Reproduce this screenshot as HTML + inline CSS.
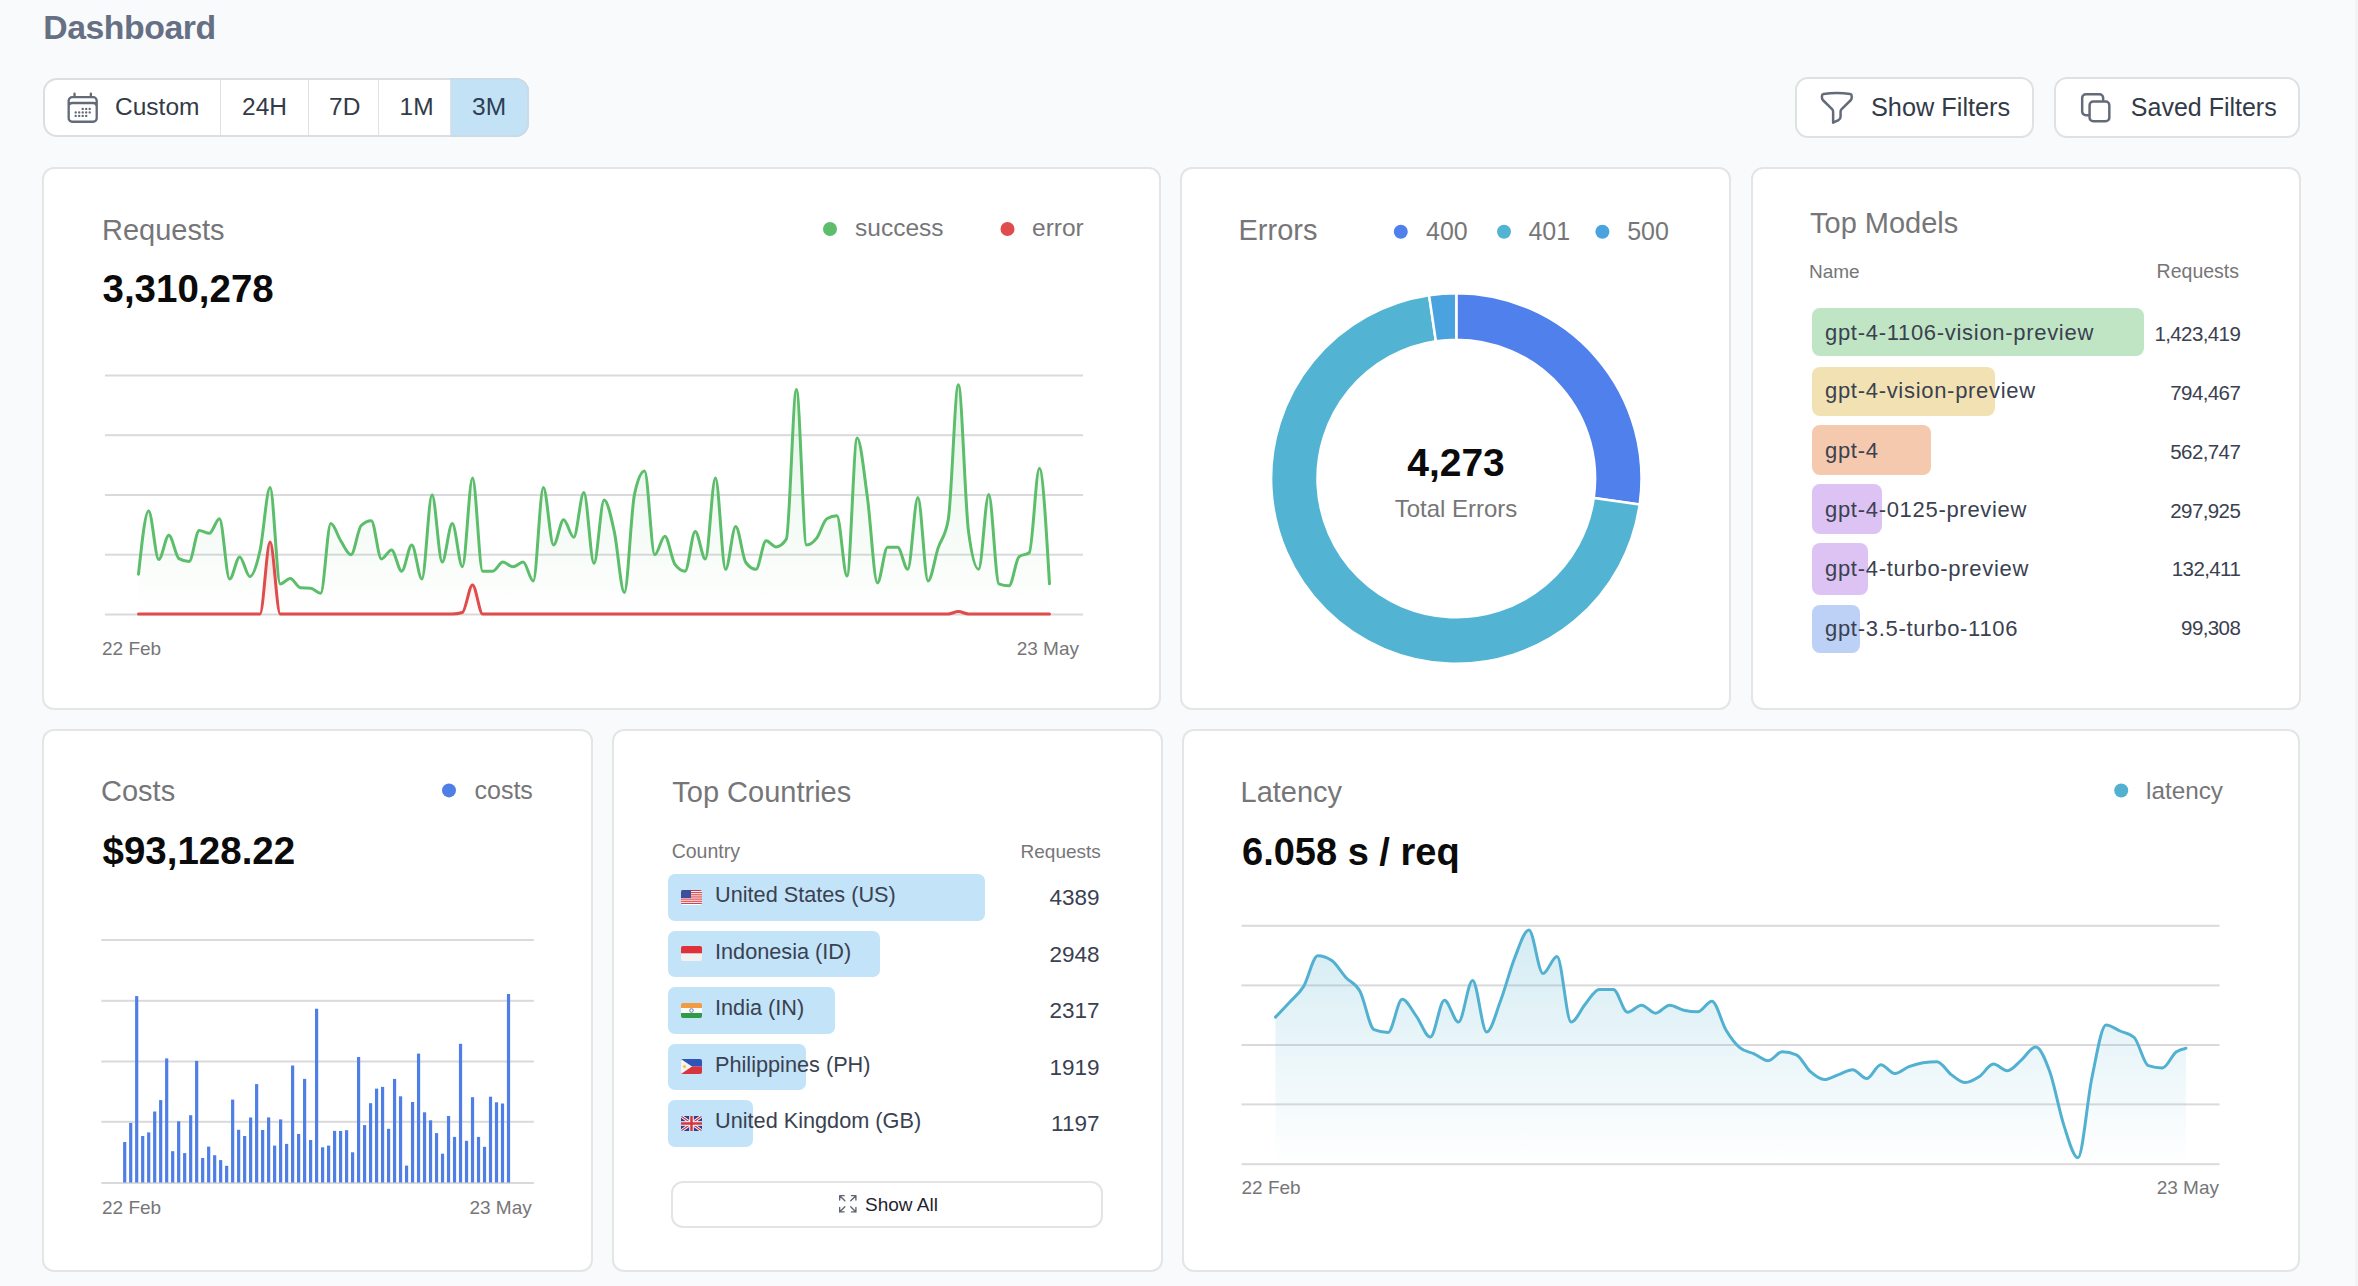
<!DOCTYPE html><html><head><meta charset="utf-8"><style>
html,body{margin:0;padding:0;}
body{width:2358px;height:1286px;background:#f9fafb;position:relative;overflow:hidden;font-family:"Liberation Sans", sans-serif;}
.t{position:absolute;white-space:nowrap;line-height:normal;}
.card{position:absolute;box-sizing:border-box;background:#fff;border:2px solid #e4e5e5;border-radius:12px;}
.btn{position:absolute;box-sizing:border-box;background:#fff;border:2px solid #e0e1e3;border-radius:13px;}
svg{position:absolute;left:0;top:0;}
</style></head><body>
<div class="t" style="top:8.0px;font-size:33.8px;font-weight:700;color:#667085;letter-spacing:-0.45px;left:43.2px;">Dashboard</div>
<div class="btn" style="left:42.5px;top:78px;width:486.5px;height:59px;border-radius:14px;border-color:#dddee0"></div>
<div style="position:absolute;left:450px;top:78px;width:79px;height:59px;background:#c4e2f6;border-radius:0 14px 14px 0;box-shadow:inset -2px 0 0 #c9dbe6, inset 0 2px 0 #c9dbe6, inset 0 -2px 0 #c9dbe6"></div>
<div style="position:absolute;left:219.5px;top:80px;width:1.6px;height:55px;background:#e0e1e3"></div>
<div style="position:absolute;left:307.5px;top:80px;width:1.6px;height:55px;background:#e0e1e3"></div>
<div style="position:absolute;left:377.5px;top:80px;width:1.6px;height:55px;background:#e0e1e3"></div>
<div style="position:absolute;left:449.5px;top:80px;width:1.6px;height:55px;background:#e0e1e3"></div>
<svg style="left:63.9px;top:88.8px" width="37.4" height="37.4" viewBox="0 0 24 24" fill="none" stroke="#636b78" stroke-width="1.5" stroke-linecap="round" stroke-linejoin="round"><path d="M6.75 3v2.25M17.25 3v2.25M3 18.75V7.5a2.25 2.25 0 012.25-2.25h13.5A2.25 2.25 0 0121 7.5v11.25m-18 0A2.25 2.25 0 005.25 21h13.5A2.25 2.25 0 0021 18.75m-18 0v-7.5A2.25 2.25 0 015.25 9h13.5A2.25 2.25 0 0121 11.25v7.5m-9-6h.008v.008H12v-.008zM12 15h.008v.008H12V15zm0 2.25h.008v.008H12v-.008zM9.75 15h.008v.008H9.75V15zm0 2.25h.008v.008H9.75v-.008zM7.5 15h.008v.008H7.5V15zm0 2.25h.008v.008H7.5v-.008zm6.75-4.5h.008v.008h-.008v-.008zm0 2.25h.008v.008h-.008V15zm0 2.25h.008v.008h-.008v-.008zm2.25-4.5h.008v.008H16.5v-.008zm0 2.25h.008v.008H16.5V15z"/></svg>
<div class="t" style="top:93.0px;font-size:24.5px;font-weight:400;color:#333a48;left:115.0px;">Custom</div>
<div class="t" style="top:93.0px;font-size:24.5px;font-weight:400;color:#333a48;left:242.0px;">24H</div>
<div class="t" style="top:93.0px;font-size:24.5px;font-weight:400;color:#333a48;left:329.0px;">7D</div>
<div class="t" style="top:93.0px;font-size:24.5px;font-weight:400;color:#333a48;left:399.5px;">1M</div>
<div class="t" style="top:93.0px;font-size:24.5px;font-weight:400;color:#2c3e55;left:472.0px;">3M</div>
<div class="btn" style="left:1795px;top:77px;width:239px;height:61px;"></div>
<svg style="left:1816.7px;top:87.7px" width="39.7" height="39.7" viewBox="0 0 24 24" fill="none" stroke="#636b78" stroke-width="1.5" stroke-linecap="round" stroke-linejoin="round"><path d="M12 3c2.755 0 5.455.232 8.083.678.533.09.917.556.917 1.096v1.044a2.25 2.25 0 01-.659 1.591l-5.432 5.432a2.25 2.25 0 00-.659 1.591v2.927a2.25 2.25 0 01-1.244 2.013L9.75 21v-6.568a2.25 2.25 0 00-.659-1.591L3.659 7.409A2.25 2.25 0 013 5.818V4.774c0-.54.384-1.006.917-1.096A48.32 48.32 0 0112 3z"/></svg>
<div class="t" style="top:93.0px;font-size:25.3px;font-weight:400;color:#333a48;left:1871.0px;">Show Filters</div>
<div class="btn" style="left:2054px;top:77px;width:246px;height:61px;"></div>
<svg style="left:2076.4px;top:87.9px" width="39.5" height="39.5" viewBox="0 0 24 24" fill="none" stroke="#636b78" stroke-width="1.5" stroke-linecap="round" stroke-linejoin="round"><path d="M16.5 8.25V6a2.25 2.25 0 00-2.25-2.25H6A2.25 2.25 0 003.75 6v8.25A2.25 2.25 0 006 16.5h2.25m8.25-8.25H18a2.25 2.25 0 012.25 2.25V18A2.25 2.25 0 0118 20.25h-7.5A2.25 2.25 0 018.25 18v-1.5m8.25-8.25h-6a2.25 2.25 0 00-2.25 2.25v6"/></svg>
<div class="t" style="top:93.0px;font-size:25px;font-weight:400;color:#333a48;left:2130.8px;">Saved Filters</div>
<div class="card" style="left:42px;top:167px;width:1119px;height:543px;"></div>
<div class="card" style="left:1180px;top:167px;width:550.5px;height:543px;"></div>
<div class="card" style="left:1750.5px;top:167px;width:550.0px;height:543px;"></div>
<div class="card" style="left:42px;top:729px;width:551px;height:542.5px;"></div>
<div class="card" style="left:612px;top:729px;width:550.5px;height:542.5px;"></div>
<div class="card" style="left:1181.5px;top:729px;width:1118.5px;height:542.5px;"></div>
<div class="t" style="top:214.0px;font-size:29px;font-weight:400;color:#767678;left:102.0px;">Requests</div>
<div class="t" style="top:267.0px;font-size:38.5px;font-weight:700;color:#0b0b0c;left:102.5px;">3,310,278</div>
<svg style="left:0;top:0" width="2358" height="1286"><circle cx="830" cy="229" r="7" fill="#5cbd6b"/><circle cx="1007.5" cy="229" r="7" fill="#e04b4b"/></svg>
<div class="t" style="top:214.0px;font-size:24.5px;font-weight:400;color:#767678;left:855.0px;">success</div>
<div class="t" style="top:214.0px;font-size:24.5px;font-weight:400;color:#767678;left:1032.0px;">error</div>
<svg style="left:0;top:0" width="2358" height="1286"><defs><linearGradient id="gg" x1="0" y1="0" x2="0" y2="1"><stop offset="0" stop-color="#5cbd6b" stop-opacity="0.16"/><stop offset="1" stop-color="#5cbd6b" stop-opacity="0"/></linearGradient><linearGradient id="rg" x1="0" y1="0" x2="0" y2="1"><stop offset="0" stop-color="#e04b4b" stop-opacity="0.16"/><stop offset="1" stop-color="#e04b4b" stop-opacity="0"/></linearGradient><linearGradient id="lg" x1="0" y1="0" x2="0" y2="1"><stop offset="0" stop-color="#52b1d0" stop-opacity="0.25"/><stop offset="1" stop-color="#52b1d0" stop-opacity="0"/></linearGradient></defs><rect x="105" y="374.5" width="978" height="2" fill="#dadadc"/><rect x="105" y="434.2" width="978" height="2" fill="#dadadc"/><rect x="105" y="494.0" width="978" height="2" fill="#dadadc"/><rect x="105" y="553.7" width="978" height="2" fill="#dadadc"/><rect x="105" y="613.5" width="978" height="2" fill="#dadadc"/><path d="M138.50,574.20C141.87,542.60,145.25,511.00,148.62,511.00C152.00,511.00,155.37,559.60,158.74,559.60C162.12,559.60,165.49,535.30,168.87,535.30C172.24,535.30,175.61,556.67,178.99,558.60C182.36,560.53,185.74,561.50,189.11,561.50C192.48,561.50,195.86,530.40,199.23,530.40C202.61,530.40,205.98,533.30,209.35,533.30C212.73,533.30,216.10,518.70,219.48,518.70C222.85,518.70,226.22,579.00,229.60,579.00C232.97,579.00,236.35,557.00,239.72,557.00C243.09,557.00,246.47,576.70,249.84,576.70C253.22,576.70,256.59,565.65,259.96,550.80C263.34,535.95,266.71,487.60,270.09,487.60C273.46,487.60,276.83,583.90,280.21,583.90C283.58,583.90,286.96,578.60,290.33,578.60C293.70,578.60,297.08,587.53,300.45,587.80C303.83,588.07,307.20,587.93,310.57,588.20C313.95,588.47,317.32,593.20,320.70,593.20C324.07,593.20,327.44,523.60,330.82,523.60C334.19,523.60,337.57,535.92,340.94,541.10C344.31,546.28,347.69,554.70,351.06,554.70C354.44,554.70,357.81,528.70,361.18,525.50C364.56,522.30,367.93,520.70,371.31,520.70C374.68,520.70,378.05,559.00,381.43,559.00C384.80,559.00,388.18,549.90,391.55,549.90C394.92,549.90,398.30,571.20,401.67,571.20C405.05,571.20,408.42,545.00,411.79,545.00C415.17,545.00,418.54,579.00,421.92,579.00C425.29,579.00,428.66,494.80,432.04,494.80C435.41,494.80,438.79,562.10,442.16,562.10C445.53,562.10,448.91,523.60,452.28,523.60C455.66,523.60,459.03,566.80,462.40,566.80C465.78,566.80,469.15,477.90,472.53,477.90C475.90,477.90,479.27,571.20,482.65,571.20C486.02,571.20,489.40,571.20,492.77,571.20C496.14,571.20,499.52,562.10,502.89,562.10C506.27,562.10,509.64,566.80,513.01,566.80C516.39,566.80,519.76,562.10,523.14,562.10C526.51,562.10,529.88,581.00,533.26,581.00C536.63,581.00,540.01,487.60,543.38,487.60C546.75,487.60,550.13,545.00,553.50,545.00C556.88,545.00,560.25,519.70,563.62,519.70C567.00,519.70,570.37,537.20,573.75,537.20C577.12,537.20,580.49,492.50,583.87,492.50C587.24,492.50,590.62,563.50,593.99,563.50C597.36,563.50,600.74,499.90,604.11,499.90C607.49,499.90,610.86,515.95,614.23,531.40C617.61,546.85,620.98,592.60,624.36,592.60C627.73,592.60,631.10,509.93,634.48,494.40C637.85,478.87,641.23,471.10,644.60,471.10C647.97,471.10,651.35,554.70,654.72,554.70C658.10,554.70,661.47,536.20,664.84,536.20C668.22,536.20,671.59,559.87,674.97,564.40C678.34,568.93,681.71,571.20,685.09,571.20C688.46,571.20,691.84,531.40,695.21,531.40C698.58,531.40,701.96,559.00,705.33,559.00C708.71,559.00,712.08,477.90,715.45,477.90C718.83,477.90,722.20,569.30,725.58,569.30C728.95,569.30,732.32,526.50,735.70,526.50C739.07,526.50,742.45,557.97,745.82,562.50C749.19,567.03,752.57,569.30,755.94,569.30C759.32,569.30,762.69,540.70,766.06,540.70C769.44,540.70,772.81,546.90,776.19,546.90C779.56,546.90,782.93,544.33,786.31,539.20C789.68,534.07,793.06,389.40,796.43,389.40C799.80,389.40,803.18,545.00,806.55,545.00C809.93,545.00,813.30,542.58,816.67,538.20C820.05,533.82,823.42,520.63,826.80,518.70C830.17,516.77,833.54,515.80,836.92,515.80C840.29,515.80,843.67,576.10,847.04,576.10C850.41,576.10,853.79,438.10,857.16,438.10C860.54,438.10,863.91,472.27,867.28,496.40C870.66,520.53,874.03,582.90,877.41,582.90C880.78,582.90,884.15,547.30,887.53,547.30C890.90,547.30,894.28,547.30,897.65,547.30C901.02,547.30,904.40,569.30,907.77,569.30C911.15,569.30,914.52,497.40,917.89,497.40C921.27,497.40,924.64,581.00,928.02,581.00C931.39,581.00,934.76,558.12,938.14,547.90C941.51,537.68,944.89,538.50,948.26,519.70C951.63,500.90,955.01,384.80,958.38,384.80C961.76,384.80,965.13,506.13,968.50,531.40C971.88,556.67,975.25,569.30,978.63,569.30C982.00,569.30,985.37,494.40,988.75,494.40C992.12,494.40,995.50,582.47,998.87,583.80C1002.24,585.13,1005.62,585.80,1008.99,585.80C1012.37,585.80,1015.74,559.20,1019.11,556.60C1022.49,554.00,1025.86,555.30,1029.24,552.70C1032.61,550.10,1035.98,468.20,1039.36,468.20C1042.73,468.20,1046.11,526.00,1049.48,583.80L1049.48,614.5L138.50,614.5Z" fill="url(#gg)"/><path d="M138.50,614.00C141.87,614.00,145.25,614.00,148.62,614.00C152.00,614.00,155.37,614.00,158.74,614.00C162.12,614.00,165.49,614.00,168.87,614.00C172.24,614.00,175.61,614.00,178.99,614.00C182.36,614.00,185.74,614.00,189.11,614.00C192.48,614.00,195.86,614.00,199.23,614.00C202.61,614.00,205.98,614.00,209.35,614.00C212.73,614.00,216.10,614.00,219.48,614.00C222.85,614.00,226.22,614.00,229.60,614.00C232.97,614.00,236.35,614.00,239.72,614.00C243.09,614.00,246.47,614.00,249.84,614.00C253.22,614.00,256.59,614.00,259.96,614.00C263.34,614.00,266.71,542.10,270.09,542.10C273.46,542.10,276.83,614.00,280.21,614.00C283.58,614.00,286.96,614.00,290.33,614.00C293.70,614.00,297.08,614.00,300.45,614.00C303.83,614.00,307.20,614.00,310.57,614.00C313.95,614.00,317.32,614.00,320.70,614.00C324.07,614.00,327.44,614.00,330.82,614.00C334.19,614.00,337.57,614.00,340.94,614.00C344.31,614.00,347.69,614.00,351.06,614.00C354.44,614.00,357.81,614.00,361.18,614.00C364.56,614.00,367.93,614.00,371.31,614.00C374.68,614.00,378.05,614.00,381.43,614.00C384.80,614.00,388.18,614.00,391.55,614.00C394.92,614.00,398.30,614.00,401.67,614.00C405.05,614.00,408.42,614.00,411.79,614.00C415.17,614.00,418.54,614.00,421.92,614.00C425.29,614.00,428.66,614.00,432.04,614.00C435.41,614.00,438.79,614.00,442.16,614.00C445.53,614.00,448.91,614.00,452.28,614.00C455.66,614.00,459.03,613.50,462.40,612.50C465.78,611.50,469.15,584.90,472.53,584.90C475.90,584.90,479.27,614.00,482.65,614.00C486.02,614.00,489.40,614.00,492.77,614.00C496.14,614.00,499.52,614.00,502.89,614.00C506.27,614.00,509.64,614.00,513.01,614.00C516.39,614.00,519.76,614.00,523.14,614.00C526.51,614.00,529.88,614.00,533.26,614.00C536.63,614.00,540.01,614.00,543.38,614.00C546.75,614.00,550.13,614.00,553.50,614.00C556.88,614.00,560.25,614.00,563.62,614.00C567.00,614.00,570.37,614.00,573.75,614.00C577.12,614.00,580.49,614.00,583.87,614.00C587.24,614.00,590.62,614.00,593.99,614.00C597.36,614.00,600.74,614.00,604.11,614.00C607.49,614.00,610.86,614.00,614.23,614.00C617.61,614.00,620.98,614.00,624.36,614.00C627.73,614.00,631.10,614.00,634.48,614.00C637.85,614.00,641.23,614.00,644.60,614.00C647.97,614.00,651.35,614.00,654.72,614.00C658.10,614.00,661.47,614.00,664.84,614.00C668.22,614.00,671.59,614.00,674.97,614.00C678.34,614.00,681.71,614.00,685.09,614.00C688.46,614.00,691.84,614.00,695.21,614.00C698.58,614.00,701.96,614.00,705.33,614.00C708.71,614.00,712.08,614.00,715.45,614.00C718.83,614.00,722.20,614.00,725.58,614.00C728.95,614.00,732.32,614.00,735.70,614.00C739.07,614.00,742.45,614.00,745.82,614.00C749.19,614.00,752.57,614.00,755.94,614.00C759.32,614.00,762.69,614.00,766.06,614.00C769.44,614.00,772.81,614.00,776.19,614.00C779.56,614.00,782.93,614.00,786.31,614.00C789.68,614.00,793.06,614.00,796.43,614.00C799.80,614.00,803.18,614.00,806.55,614.00C809.93,614.00,813.30,614.00,816.67,614.00C820.05,614.00,823.42,614.00,826.80,614.00C830.17,614.00,833.54,614.00,836.92,614.00C840.29,614.00,843.67,614.00,847.04,614.00C850.41,614.00,853.79,614.00,857.16,614.00C860.54,614.00,863.91,614.00,867.28,614.00C870.66,614.00,874.03,614.00,877.41,614.00C880.78,614.00,884.15,614.00,887.53,614.00C890.90,614.00,894.28,614.00,897.65,614.00C901.02,614.00,904.40,614.00,907.77,614.00C911.15,614.00,914.52,614.00,917.89,614.00C921.27,614.00,924.64,614.00,928.02,614.00C931.39,614.00,934.76,614.00,938.14,614.00C941.51,614.00,944.89,614.00,948.26,614.00C951.63,614.00,955.01,611.50,958.38,611.50C961.76,611.50,965.13,614.00,968.50,614.00C971.88,614.00,975.25,614.00,978.63,614.00C982.00,614.00,985.37,614.00,988.75,614.00C992.12,614.00,995.50,614.00,998.87,614.00C1002.24,614.00,1005.62,614.00,1008.99,614.00C1012.37,614.00,1015.74,614.00,1019.11,614.00C1022.49,614.00,1025.86,614.00,1029.24,614.00C1032.61,614.00,1035.98,614.00,1039.36,614.00C1042.73,614.00,1046.11,614.00,1049.48,614.00L1049.48,614.5L138.50,614.5Z" fill="url(#rg)"/><path d="M138.50,574.20C141.87,542.60,145.25,511.00,148.62,511.00C152.00,511.00,155.37,559.60,158.74,559.60C162.12,559.60,165.49,535.30,168.87,535.30C172.24,535.30,175.61,556.67,178.99,558.60C182.36,560.53,185.74,561.50,189.11,561.50C192.48,561.50,195.86,530.40,199.23,530.40C202.61,530.40,205.98,533.30,209.35,533.30C212.73,533.30,216.10,518.70,219.48,518.70C222.85,518.70,226.22,579.00,229.60,579.00C232.97,579.00,236.35,557.00,239.72,557.00C243.09,557.00,246.47,576.70,249.84,576.70C253.22,576.70,256.59,565.65,259.96,550.80C263.34,535.95,266.71,487.60,270.09,487.60C273.46,487.60,276.83,583.90,280.21,583.90C283.58,583.90,286.96,578.60,290.33,578.60C293.70,578.60,297.08,587.53,300.45,587.80C303.83,588.07,307.20,587.93,310.57,588.20C313.95,588.47,317.32,593.20,320.70,593.20C324.07,593.20,327.44,523.60,330.82,523.60C334.19,523.60,337.57,535.92,340.94,541.10C344.31,546.28,347.69,554.70,351.06,554.70C354.44,554.70,357.81,528.70,361.18,525.50C364.56,522.30,367.93,520.70,371.31,520.70C374.68,520.70,378.05,559.00,381.43,559.00C384.80,559.00,388.18,549.90,391.55,549.90C394.92,549.90,398.30,571.20,401.67,571.20C405.05,571.20,408.42,545.00,411.79,545.00C415.17,545.00,418.54,579.00,421.92,579.00C425.29,579.00,428.66,494.80,432.04,494.80C435.41,494.80,438.79,562.10,442.16,562.10C445.53,562.10,448.91,523.60,452.28,523.60C455.66,523.60,459.03,566.80,462.40,566.80C465.78,566.80,469.15,477.90,472.53,477.90C475.90,477.90,479.27,571.20,482.65,571.20C486.02,571.20,489.40,571.20,492.77,571.20C496.14,571.20,499.52,562.10,502.89,562.10C506.27,562.10,509.64,566.80,513.01,566.80C516.39,566.80,519.76,562.10,523.14,562.10C526.51,562.10,529.88,581.00,533.26,581.00C536.63,581.00,540.01,487.60,543.38,487.60C546.75,487.60,550.13,545.00,553.50,545.00C556.88,545.00,560.25,519.70,563.62,519.70C567.00,519.70,570.37,537.20,573.75,537.20C577.12,537.20,580.49,492.50,583.87,492.50C587.24,492.50,590.62,563.50,593.99,563.50C597.36,563.50,600.74,499.90,604.11,499.90C607.49,499.90,610.86,515.95,614.23,531.40C617.61,546.85,620.98,592.60,624.36,592.60C627.73,592.60,631.10,509.93,634.48,494.40C637.85,478.87,641.23,471.10,644.60,471.10C647.97,471.10,651.35,554.70,654.72,554.70C658.10,554.70,661.47,536.20,664.84,536.20C668.22,536.20,671.59,559.87,674.97,564.40C678.34,568.93,681.71,571.20,685.09,571.20C688.46,571.20,691.84,531.40,695.21,531.40C698.58,531.40,701.96,559.00,705.33,559.00C708.71,559.00,712.08,477.90,715.45,477.90C718.83,477.90,722.20,569.30,725.58,569.30C728.95,569.30,732.32,526.50,735.70,526.50C739.07,526.50,742.45,557.97,745.82,562.50C749.19,567.03,752.57,569.30,755.94,569.30C759.32,569.30,762.69,540.70,766.06,540.70C769.44,540.70,772.81,546.90,776.19,546.90C779.56,546.90,782.93,544.33,786.31,539.20C789.68,534.07,793.06,389.40,796.43,389.40C799.80,389.40,803.18,545.00,806.55,545.00C809.93,545.00,813.30,542.58,816.67,538.20C820.05,533.82,823.42,520.63,826.80,518.70C830.17,516.77,833.54,515.80,836.92,515.80C840.29,515.80,843.67,576.10,847.04,576.10C850.41,576.10,853.79,438.10,857.16,438.10C860.54,438.10,863.91,472.27,867.28,496.40C870.66,520.53,874.03,582.90,877.41,582.90C880.78,582.90,884.15,547.30,887.53,547.30C890.90,547.30,894.28,547.30,897.65,547.30C901.02,547.30,904.40,569.30,907.77,569.30C911.15,569.30,914.52,497.40,917.89,497.40C921.27,497.40,924.64,581.00,928.02,581.00C931.39,581.00,934.76,558.12,938.14,547.90C941.51,537.68,944.89,538.50,948.26,519.70C951.63,500.90,955.01,384.80,958.38,384.80C961.76,384.80,965.13,506.13,968.50,531.40C971.88,556.67,975.25,569.30,978.63,569.30C982.00,569.30,985.37,494.40,988.75,494.40C992.12,494.40,995.50,582.47,998.87,583.80C1002.24,585.13,1005.62,585.80,1008.99,585.80C1012.37,585.80,1015.74,559.20,1019.11,556.60C1022.49,554.00,1025.86,555.30,1029.24,552.70C1032.61,550.10,1035.98,468.20,1039.36,468.20C1042.73,468.20,1046.11,526.00,1049.48,583.80" fill="none" stroke="#5cbd6b" stroke-width="3.0" stroke-linejoin="round" stroke-linecap="round"/><path d="M138.50,614.00C141.87,614.00,145.25,614.00,148.62,614.00C152.00,614.00,155.37,614.00,158.74,614.00C162.12,614.00,165.49,614.00,168.87,614.00C172.24,614.00,175.61,614.00,178.99,614.00C182.36,614.00,185.74,614.00,189.11,614.00C192.48,614.00,195.86,614.00,199.23,614.00C202.61,614.00,205.98,614.00,209.35,614.00C212.73,614.00,216.10,614.00,219.48,614.00C222.85,614.00,226.22,614.00,229.60,614.00C232.97,614.00,236.35,614.00,239.72,614.00C243.09,614.00,246.47,614.00,249.84,614.00C253.22,614.00,256.59,614.00,259.96,614.00C263.34,614.00,266.71,542.10,270.09,542.10C273.46,542.10,276.83,614.00,280.21,614.00C283.58,614.00,286.96,614.00,290.33,614.00C293.70,614.00,297.08,614.00,300.45,614.00C303.83,614.00,307.20,614.00,310.57,614.00C313.95,614.00,317.32,614.00,320.70,614.00C324.07,614.00,327.44,614.00,330.82,614.00C334.19,614.00,337.57,614.00,340.94,614.00C344.31,614.00,347.69,614.00,351.06,614.00C354.44,614.00,357.81,614.00,361.18,614.00C364.56,614.00,367.93,614.00,371.31,614.00C374.68,614.00,378.05,614.00,381.43,614.00C384.80,614.00,388.18,614.00,391.55,614.00C394.92,614.00,398.30,614.00,401.67,614.00C405.05,614.00,408.42,614.00,411.79,614.00C415.17,614.00,418.54,614.00,421.92,614.00C425.29,614.00,428.66,614.00,432.04,614.00C435.41,614.00,438.79,614.00,442.16,614.00C445.53,614.00,448.91,614.00,452.28,614.00C455.66,614.00,459.03,613.50,462.40,612.50C465.78,611.50,469.15,584.90,472.53,584.90C475.90,584.90,479.27,614.00,482.65,614.00C486.02,614.00,489.40,614.00,492.77,614.00C496.14,614.00,499.52,614.00,502.89,614.00C506.27,614.00,509.64,614.00,513.01,614.00C516.39,614.00,519.76,614.00,523.14,614.00C526.51,614.00,529.88,614.00,533.26,614.00C536.63,614.00,540.01,614.00,543.38,614.00C546.75,614.00,550.13,614.00,553.50,614.00C556.88,614.00,560.25,614.00,563.62,614.00C567.00,614.00,570.37,614.00,573.75,614.00C577.12,614.00,580.49,614.00,583.87,614.00C587.24,614.00,590.62,614.00,593.99,614.00C597.36,614.00,600.74,614.00,604.11,614.00C607.49,614.00,610.86,614.00,614.23,614.00C617.61,614.00,620.98,614.00,624.36,614.00C627.73,614.00,631.10,614.00,634.48,614.00C637.85,614.00,641.23,614.00,644.60,614.00C647.97,614.00,651.35,614.00,654.72,614.00C658.10,614.00,661.47,614.00,664.84,614.00C668.22,614.00,671.59,614.00,674.97,614.00C678.34,614.00,681.71,614.00,685.09,614.00C688.46,614.00,691.84,614.00,695.21,614.00C698.58,614.00,701.96,614.00,705.33,614.00C708.71,614.00,712.08,614.00,715.45,614.00C718.83,614.00,722.20,614.00,725.58,614.00C728.95,614.00,732.32,614.00,735.70,614.00C739.07,614.00,742.45,614.00,745.82,614.00C749.19,614.00,752.57,614.00,755.94,614.00C759.32,614.00,762.69,614.00,766.06,614.00C769.44,614.00,772.81,614.00,776.19,614.00C779.56,614.00,782.93,614.00,786.31,614.00C789.68,614.00,793.06,614.00,796.43,614.00C799.80,614.00,803.18,614.00,806.55,614.00C809.93,614.00,813.30,614.00,816.67,614.00C820.05,614.00,823.42,614.00,826.80,614.00C830.17,614.00,833.54,614.00,836.92,614.00C840.29,614.00,843.67,614.00,847.04,614.00C850.41,614.00,853.79,614.00,857.16,614.00C860.54,614.00,863.91,614.00,867.28,614.00C870.66,614.00,874.03,614.00,877.41,614.00C880.78,614.00,884.15,614.00,887.53,614.00C890.90,614.00,894.28,614.00,897.65,614.00C901.02,614.00,904.40,614.00,907.77,614.00C911.15,614.00,914.52,614.00,917.89,614.00C921.27,614.00,924.64,614.00,928.02,614.00C931.39,614.00,934.76,614.00,938.14,614.00C941.51,614.00,944.89,614.00,948.26,614.00C951.63,614.00,955.01,611.50,958.38,611.50C961.76,611.50,965.13,614.00,968.50,614.00C971.88,614.00,975.25,614.00,978.63,614.00C982.00,614.00,985.37,614.00,988.75,614.00C992.12,614.00,995.50,614.00,998.87,614.00C1002.24,614.00,1005.62,614.00,1008.99,614.00C1012.37,614.00,1015.74,614.00,1019.11,614.00C1022.49,614.00,1025.86,614.00,1029.24,614.00C1032.61,614.00,1035.98,614.00,1039.36,614.00C1042.73,614.00,1046.11,614.00,1049.48,614.00" fill="none" stroke="#e04b4b" stroke-width="3.0" stroke-linejoin="round" stroke-linecap="round"/><rect x="101.3" y="939.0" width="432.6" height="2" fill="#dadadc"/><rect x="101.3" y="999.8" width="432.6" height="2" fill="#dadadc"/><rect x="101.3" y="1060.5" width="432.6" height="2" fill="#dadadc"/><rect x="101.3" y="1120.8" width="432.6" height="2" fill="#dadadc"/><rect x="101.3" y="1182.0" width="432.6" height="2" fill="#dadadc"/><rect x="123.10" y="1142.0" width="3.2" height="40.5" fill="#4f7fe6"/><rect x="129.10" y="1122.9" width="3.2" height="59.6" fill="#4f7fe6"/><rect x="135.09" y="996.1" width="3.2" height="186.4" fill="#4f7fe6"/><rect x="141.09" y="1136.0" width="3.2" height="46.5" fill="#4f7fe6"/><rect x="147.09" y="1132.4" width="3.2" height="50.1" fill="#4f7fe6"/><rect x="153.09" y="1111.5" width="3.2" height="71.0" fill="#4f7fe6"/><rect x="159.08" y="1100.1" width="3.2" height="82.4" fill="#4f7fe6"/><rect x="165.08" y="1058.4" width="3.2" height="124.1" fill="#4f7fe6"/><rect x="171.08" y="1151.2" width="3.2" height="31.3" fill="#4f7fe6"/><rect x="177.07" y="1121.3" width="3.2" height="61.2" fill="#4f7fe6"/><rect x="183.07" y="1153.1" width="3.2" height="29.4" fill="#4f7fe6"/><rect x="189.07" y="1115.2" width="3.2" height="67.3" fill="#4f7fe6"/><rect x="195.06" y="1060.9" width="3.2" height="121.6" fill="#4f7fe6"/><rect x="201.06" y="1158.0" width="3.2" height="24.5" fill="#4f7fe6"/><rect x="207.06" y="1146.6" width="3.2" height="35.9" fill="#4f7fe6"/><rect x="213.06" y="1155.2" width="3.2" height="27.3" fill="#4f7fe6"/><rect x="219.05" y="1160.1" width="3.2" height="22.4" fill="#4f7fe6"/><rect x="225.05" y="1165.8" width="3.2" height="16.7" fill="#4f7fe6"/><rect x="231.05" y="1099.6" width="3.2" height="82.9" fill="#4f7fe6"/><rect x="237.04" y="1129.8" width="3.2" height="52.7" fill="#4f7fe6"/><rect x="243.04" y="1136.0" width="3.2" height="46.5" fill="#4f7fe6"/><rect x="249.04" y="1117.5" width="3.2" height="65.0" fill="#4f7fe6"/><rect x="255.03" y="1084.1" width="3.2" height="98.4" fill="#4f7fe6"/><rect x="261.03" y="1130.0" width="3.2" height="52.5" fill="#4f7fe6"/><rect x="267.03" y="1117.4" width="3.2" height="65.1" fill="#4f7fe6"/><rect x="273.02" y="1145.6" width="3.2" height="36.9" fill="#4f7fe6"/><rect x="279.02" y="1119.4" width="3.2" height="63.1" fill="#4f7fe6"/><rect x="285.02" y="1143.9" width="3.2" height="38.6" fill="#4f7fe6"/><rect x="291.02" y="1065.5" width="3.2" height="117.0" fill="#4f7fe6"/><rect x="297.01" y="1134.0" width="3.2" height="48.5" fill="#4f7fe6"/><rect x="303.01" y="1078.9" width="3.2" height="103.6" fill="#4f7fe6"/><rect x="309.01" y="1140.0" width="3.2" height="42.5" fill="#4f7fe6"/><rect x="315.00" y="1008.7" width="3.2" height="173.8" fill="#4f7fe6"/><rect x="321.00" y="1147.3" width="3.2" height="35.2" fill="#4f7fe6"/><rect x="327.00" y="1145.6" width="3.2" height="36.9" fill="#4f7fe6"/><rect x="332.99" y="1130.9" width="3.2" height="51.6" fill="#4f7fe6"/><rect x="338.99" y="1131.0" width="3.2" height="51.5" fill="#4f7fe6"/><rect x="344.99" y="1130.2" width="3.2" height="52.3" fill="#4f7fe6"/><rect x="350.99" y="1152.3" width="3.2" height="30.2" fill="#4f7fe6"/><rect x="356.98" y="1057.0" width="3.2" height="125.5" fill="#4f7fe6"/><rect x="362.98" y="1125.1" width="3.2" height="57.4" fill="#4f7fe6"/><rect x="368.98" y="1103.2" width="3.2" height="79.3" fill="#4f7fe6"/><rect x="374.97" y="1088.6" width="3.2" height="93.9" fill="#4f7fe6"/><rect x="380.97" y="1086.9" width="3.2" height="95.6" fill="#4f7fe6"/><rect x="386.97" y="1128.8" width="3.2" height="53.7" fill="#4f7fe6"/><rect x="392.96" y="1078.9" width="3.2" height="103.6" fill="#4f7fe6"/><rect x="398.96" y="1096.3" width="3.2" height="86.2" fill="#4f7fe6"/><rect x="404.96" y="1165.6" width="3.2" height="16.9" fill="#4f7fe6"/><rect x="410.96" y="1102.0" width="3.2" height="80.5" fill="#4f7fe6"/><rect x="416.95" y="1053.6" width="3.2" height="128.9" fill="#4f7fe6"/><rect x="422.95" y="1112.3" width="3.2" height="70.2" fill="#4f7fe6"/><rect x="428.95" y="1120.3" width="3.2" height="62.2" fill="#4f7fe6"/><rect x="434.94" y="1133.1" width="3.2" height="49.4" fill="#4f7fe6"/><rect x="440.94" y="1153.7" width="3.2" height="28.8" fill="#4f7fe6"/><rect x="446.94" y="1116.0" width="3.2" height="66.5" fill="#4f7fe6"/><rect x="452.93" y="1136.9" width="3.2" height="45.6" fill="#4f7fe6"/><rect x="458.93" y="1043.8" width="3.2" height="138.7" fill="#4f7fe6"/><rect x="464.93" y="1140.8" width="3.2" height="41.7" fill="#4f7fe6"/><rect x="470.93" y="1097.2" width="3.2" height="85.3" fill="#4f7fe6"/><rect x="476.92" y="1136.9" width="3.2" height="45.6" fill="#4f7fe6"/><rect x="482.92" y="1146.8" width="3.2" height="35.7" fill="#4f7fe6"/><rect x="488.92" y="1096.7" width="3.2" height="85.8" fill="#4f7fe6"/><rect x="494.91" y="1102.3" width="3.2" height="80.2" fill="#4f7fe6"/><rect x="500.91" y="1103.5" width="3.2" height="79.0" fill="#4f7fe6"/><rect x="506.91" y="994.0" width="3.2" height="188.5" fill="#4f7fe6"/><rect x="1241.5" y="924.8" width="978" height="2" fill="#dadadc"/><rect x="1241.5" y="984.4" width="978" height="2" fill="#dadadc"/><rect x="1241.5" y="1044.0" width="978" height="2" fill="#dadadc"/><rect x="1241.5" y="1103.4" width="978" height="2" fill="#dadadc"/><rect x="1241.5" y="1163.2" width="978" height="2" fill="#dadadc"/><path d="M1275.50,1017.10C1280.19,1012.21,1284.88,1007.32,1289.58,1002.20C1294.27,997.08,1298.96,994.15,1303.65,986.40C1308.35,978.65,1313.04,955.70,1317.73,955.70C1322.42,955.70,1327.12,957.33,1331.81,960.60C1336.50,963.87,1341.19,972.38,1345.88,977.50C1350.58,982.62,1355.27,982.62,1359.96,991.30C1364.65,999.98,1369.35,1027.73,1374.04,1029.60C1378.73,1031.47,1383.42,1032.40,1388.12,1032.40C1392.81,1032.40,1397.50,999.30,1402.19,999.30C1406.89,999.30,1411.58,1009.82,1416.27,1016.10C1420.96,1022.38,1425.65,1037.00,1430.35,1037.00C1435.04,1037.00,1439.73,1000.30,1444.42,1000.30C1449.12,1000.30,1453.81,1022.10,1458.50,1022.10C1463.19,1022.10,1467.89,980.40,1472.58,980.40C1477.27,980.40,1481.96,1032.00,1486.65,1032.00C1491.35,1032.00,1496.04,1012.70,1500.73,1000.30C1505.42,987.90,1510.12,969.33,1514.81,957.60C1519.50,945.87,1524.19,929.90,1528.89,929.90C1533.58,929.90,1538.27,973.50,1542.96,973.50C1547.66,973.50,1552.35,956.60,1557.04,956.60C1561.73,956.60,1566.42,1022.10,1571.12,1022.10C1575.81,1022.10,1580.50,1009.65,1585.19,1004.20C1589.89,998.75,1594.58,989.40,1599.27,989.40C1603.96,989.40,1608.66,989.40,1613.35,989.40C1618.04,989.40,1622.73,1012.20,1627.42,1012.20C1632.12,1012.20,1636.81,1005.20,1641.50,1005.20C1646.19,1005.20,1650.89,1013.20,1655.58,1013.20C1660.27,1013.20,1664.96,1005.20,1669.66,1005.20C1674.35,1005.20,1679.04,1009.13,1683.73,1010.20C1688.43,1011.27,1693.12,1011.80,1697.81,1011.80C1702.50,1011.80,1707.19,1001.30,1711.89,1001.30C1716.58,1001.30,1721.27,1022.23,1725.96,1030.00C1730.66,1037.77,1735.35,1043.97,1740.04,1047.90C1744.73,1051.83,1749.43,1051.67,1754.12,1053.80C1758.81,1055.93,1763.50,1060.70,1768.19,1060.70C1772.89,1060.70,1777.58,1051.80,1782.27,1051.80C1786.96,1051.80,1791.66,1052.80,1796.35,1054.80C1801.04,1056.80,1805.73,1067.57,1810.43,1071.70C1815.12,1075.83,1819.81,1079.60,1824.50,1079.60C1829.20,1079.60,1833.89,1076.25,1838.58,1074.60C1843.27,1072.95,1847.96,1069.70,1852.66,1069.70C1857.35,1069.70,1862.04,1078.60,1866.73,1078.60C1871.43,1078.60,1876.12,1064.70,1880.81,1064.70C1885.50,1064.70,1890.20,1073.60,1894.89,1073.60C1899.58,1073.60,1904.27,1068.52,1908.97,1066.70C1913.66,1064.88,1918.35,1063.37,1923.04,1062.70C1927.73,1062.03,1932.43,1061.70,1937.12,1061.70C1941.81,1061.70,1946.50,1071.12,1951.20,1074.60C1955.89,1078.08,1960.58,1082.60,1965.27,1082.60C1969.97,1082.60,1974.66,1079.68,1979.35,1076.60C1984.04,1073.52,1988.73,1064.10,1993.43,1064.10C1998.12,1064.10,2002.81,1070.70,2007.50,1070.70C2012.20,1070.70,2016.89,1063.77,2021.58,1059.80C2026.27,1055.83,2030.97,1046.90,2035.66,1046.90C2040.35,1046.90,2045.04,1058.57,2049.74,1071.60C2054.43,1084.63,2059.12,1110.73,2063.81,1125.10C2068.50,1139.47,2073.20,1157.80,2077.89,1157.80C2082.58,1157.80,2087.27,1099.63,2091.97,1077.50C2096.66,1055.37,2101.35,1025.00,2106.04,1025.00C2110.74,1025.00,2115.43,1028.92,2120.12,1031.00C2124.81,1033.08,2129.50,1033.17,2134.20,1037.50C2138.89,1041.83,2143.58,1064.00,2148.27,1065.60C2152.97,1067.20,2157.66,1068.00,2162.35,1068.00C2167.04,1068.00,2171.74,1055.04,2176.43,1051.80C2179.62,1049.60,2182.81,1048.90,2186.00,1048.20L2186.00,1164L1275.50,1164Z" fill="url(#lg)"/><path d="M1275.50,1017.10C1280.19,1012.21,1284.88,1007.32,1289.58,1002.20C1294.27,997.08,1298.96,994.15,1303.65,986.40C1308.35,978.65,1313.04,955.70,1317.73,955.70C1322.42,955.70,1327.12,957.33,1331.81,960.60C1336.50,963.87,1341.19,972.38,1345.88,977.50C1350.58,982.62,1355.27,982.62,1359.96,991.30C1364.65,999.98,1369.35,1027.73,1374.04,1029.60C1378.73,1031.47,1383.42,1032.40,1388.12,1032.40C1392.81,1032.40,1397.50,999.30,1402.19,999.30C1406.89,999.30,1411.58,1009.82,1416.27,1016.10C1420.96,1022.38,1425.65,1037.00,1430.35,1037.00C1435.04,1037.00,1439.73,1000.30,1444.42,1000.30C1449.12,1000.30,1453.81,1022.10,1458.50,1022.10C1463.19,1022.10,1467.89,980.40,1472.58,980.40C1477.27,980.40,1481.96,1032.00,1486.65,1032.00C1491.35,1032.00,1496.04,1012.70,1500.73,1000.30C1505.42,987.90,1510.12,969.33,1514.81,957.60C1519.50,945.87,1524.19,929.90,1528.89,929.90C1533.58,929.90,1538.27,973.50,1542.96,973.50C1547.66,973.50,1552.35,956.60,1557.04,956.60C1561.73,956.60,1566.42,1022.10,1571.12,1022.10C1575.81,1022.10,1580.50,1009.65,1585.19,1004.20C1589.89,998.75,1594.58,989.40,1599.27,989.40C1603.96,989.40,1608.66,989.40,1613.35,989.40C1618.04,989.40,1622.73,1012.20,1627.42,1012.20C1632.12,1012.20,1636.81,1005.20,1641.50,1005.20C1646.19,1005.20,1650.89,1013.20,1655.58,1013.20C1660.27,1013.20,1664.96,1005.20,1669.66,1005.20C1674.35,1005.20,1679.04,1009.13,1683.73,1010.20C1688.43,1011.27,1693.12,1011.80,1697.81,1011.80C1702.50,1011.80,1707.19,1001.30,1711.89,1001.30C1716.58,1001.30,1721.27,1022.23,1725.96,1030.00C1730.66,1037.77,1735.35,1043.97,1740.04,1047.90C1744.73,1051.83,1749.43,1051.67,1754.12,1053.80C1758.81,1055.93,1763.50,1060.70,1768.19,1060.70C1772.89,1060.70,1777.58,1051.80,1782.27,1051.80C1786.96,1051.80,1791.66,1052.80,1796.35,1054.80C1801.04,1056.80,1805.73,1067.57,1810.43,1071.70C1815.12,1075.83,1819.81,1079.60,1824.50,1079.60C1829.20,1079.60,1833.89,1076.25,1838.58,1074.60C1843.27,1072.95,1847.96,1069.70,1852.66,1069.70C1857.35,1069.70,1862.04,1078.60,1866.73,1078.60C1871.43,1078.60,1876.12,1064.70,1880.81,1064.70C1885.50,1064.70,1890.20,1073.60,1894.89,1073.60C1899.58,1073.60,1904.27,1068.52,1908.97,1066.70C1913.66,1064.88,1918.35,1063.37,1923.04,1062.70C1927.73,1062.03,1932.43,1061.70,1937.12,1061.70C1941.81,1061.70,1946.50,1071.12,1951.20,1074.60C1955.89,1078.08,1960.58,1082.60,1965.27,1082.60C1969.97,1082.60,1974.66,1079.68,1979.35,1076.60C1984.04,1073.52,1988.73,1064.10,1993.43,1064.10C1998.12,1064.10,2002.81,1070.70,2007.50,1070.70C2012.20,1070.70,2016.89,1063.77,2021.58,1059.80C2026.27,1055.83,2030.97,1046.90,2035.66,1046.90C2040.35,1046.90,2045.04,1058.57,2049.74,1071.60C2054.43,1084.63,2059.12,1110.73,2063.81,1125.10C2068.50,1139.47,2073.20,1157.80,2077.89,1157.80C2082.58,1157.80,2087.27,1099.63,2091.97,1077.50C2096.66,1055.37,2101.35,1025.00,2106.04,1025.00C2110.74,1025.00,2115.43,1028.92,2120.12,1031.00C2124.81,1033.08,2129.50,1033.17,2134.20,1037.50C2138.89,1041.83,2143.58,1064.00,2148.27,1065.60C2152.97,1067.20,2157.66,1068.00,2162.35,1068.00C2167.04,1068.00,2171.74,1055.04,2176.43,1051.80C2179.62,1049.60,2182.81,1048.90,2186.00,1048.20" fill="none" stroke="#52b1d0" stroke-width="3.0" stroke-linejoin="round" stroke-linecap="round"/><path d="M1456.30,293.30A185.2,185.2 0 0 1 1639.67,504.50L1593.73,497.99A138.8,138.8 0 0 0 1456.30,339.70Z" fill="#4f80ec" stroke="#fff" stroke-width="2.5" stroke-linejoin="miter"/><path d="M1639.67,504.50A185.2,185.2 0 1 1 1429.09,295.31L1435.90,341.21A138.8,138.8 0 1 0 1593.73,497.99Z" fill="#53b3d3" stroke="#fff" stroke-width="2.5" stroke-linejoin="miter"/><path d="M1429.09,295.31A185.2,185.2 0 0 1 1456.30,293.30L1456.30,339.70A138.8,138.8 0 0 0 1435.90,341.21Z" fill="#4aa2df" stroke="#fff" stroke-width="2.5" stroke-linejoin="miter"/><circle cx="1400.8" cy="231.8" r="7" fill="#4f80ec"/><circle cx="1504" cy="231.8" r="7" fill="#53b3d3"/><circle cx="1602.4" cy="231.8" r="7" fill="#4aa2df"/><circle cx="449" cy="790.4" r="7" fill="#4f7fe6"/><circle cx="2121.2" cy="790.5" r="7" fill="#52b1d0"/></svg>
<div class="t" style="top:638.0px;font-size:19px;font-weight:400;color:#767678;left:102.0px;">22 Feb</div>
<div class="t" style="top:638.0px;font-size:19px;font-weight:400;color:#767678;right:1279.0px;text-align:right;">23 May</div>
<div class="t" style="top:214.0px;font-size:29px;font-weight:400;color:#767678;left:1238.5px;">Errors</div>
<div class="t" style="top:217.0px;font-size:25px;font-weight:400;color:#767678;left:1426.0px;">400</div>
<div class="t" style="top:217.0px;font-size:25px;font-weight:400;color:#767678;left:1528.4px;">401</div>
<div class="t" style="top:217.0px;font-size:25px;font-weight:400;color:#767678;left:1627.2px;">500</div>
<div class="t" style="top:441.0px;font-size:39px;font-weight:700;color:#0b0b0c;left:856.0px;width:1200px;text-align:center;">4,273</div>
<div class="t" style="top:495.0px;font-size:24px;font-weight:400;color:#767678;left:856.0px;width:1200px;text-align:center;">Total Errors</div>
<div class="t" style="top:207.0px;font-size:29px;font-weight:400;color:#767678;left:1810.0px;">Top Models</div>
<div class="t" style="top:261.0px;font-size:19px;font-weight:400;color:#767678;left:1809.0px;">Name</div>
<div class="t" style="top:260.0px;font-size:19.5px;font-weight:400;color:#767678;right:119.0px;text-align:right;">Requests</div>
<div style="position:absolute;left:1812px;top:308.0px;width:332.0px;height:48.3px;background:#bfe5c4;border-radius:8px;"></div>
<div class="t" style="top:320.0px;font-size:22px;font-weight:400;color:#3a4150;letter-spacing:0.7px;left:1825.0px;">gpt-4-1106-vision-preview</div>
<div class="t" style="top:322.0px;font-size:20.5px;font-weight:400;color:#3a4150;letter-spacing:-0.6px;right:117.8px;text-align:right;">1,423,419</div>
<div style="position:absolute;left:1812px;top:367.0px;width:182.7px;height:48.8px;background:#f2e1b3;border-radius:8px;"></div>
<div class="t" style="top:378.0px;font-size:22px;font-weight:400;color:#3a4150;letter-spacing:0.7px;left:1825.0px;">gpt-4-vision-preview</div>
<div class="t" style="top:381.0px;font-size:20.5px;font-weight:400;color:#3a4150;letter-spacing:-0.6px;right:117.8px;text-align:right;">794,467</div>
<div style="position:absolute;left:1812px;top:425.3px;width:118.7px;height:49.5px;background:#f5c9ae;border-radius:8px;"></div>
<div class="t" style="top:438.0px;font-size:22px;font-weight:400;color:#3a4150;letter-spacing:0.7px;left:1825.0px;">gpt-4</div>
<div class="t" style="top:440.0px;font-size:20.5px;font-weight:400;color:#3a4150;letter-spacing:-0.6px;right:117.8px;text-align:right;">562,747</div>
<div style="position:absolute;left:1812px;top:484.3px;width:70.0px;height:49.5px;background:#dcc3f4;border-radius:8px;"></div>
<div class="t" style="top:497.0px;font-size:22px;font-weight:400;color:#3a4150;letter-spacing:0.7px;left:1825.0px;">gpt-4-0125-preview</div>
<div class="t" style="top:499.0px;font-size:20.5px;font-weight:400;color:#3a4150;letter-spacing:-0.6px;right:117.8px;text-align:right;">297,925</div>
<div style="position:absolute;left:1812px;top:543.0px;width:55.6px;height:51.5px;background:#dcc3f4;border-radius:8px;"></div>
<div class="t" style="top:556.0px;font-size:22px;font-weight:400;color:#3a4150;letter-spacing:0.7px;left:1825.0px;">gpt-4-turbo-preview</div>
<div class="t" style="top:557.0px;font-size:20.5px;font-weight:400;color:#3a4150;letter-spacing:-0.6px;right:117.8px;text-align:right;">132,411</div>
<div style="position:absolute;left:1812px;top:604.8px;width:48.2px;height:48.4px;background:#bdd0f6;border-radius:8px;"></div>
<div class="t" style="top:616.0px;font-size:22px;font-weight:400;color:#3a4150;letter-spacing:0.7px;left:1825.0px;">gpt-3.5-turbo-1106</div>
<div class="t" style="top:616.0px;font-size:20.5px;font-weight:400;color:#3a4150;letter-spacing:-0.6px;right:117.8px;text-align:right;">99,308</div>
<div class="t" style="top:775.0px;font-size:29px;font-weight:400;color:#767678;left:101.0px;">Costs</div>
<div class="t" style="top:776.0px;font-size:25px;font-weight:400;color:#767678;left:474.5px;">costs</div>
<div class="t" style="top:829.0px;font-size:38.5px;font-weight:700;color:#0b0b0c;left:102.5px;">$93,128.22</div>
<div class="t" style="top:1197.0px;font-size:19px;font-weight:400;color:#767678;left:102.0px;">22 Feb</div>
<div class="t" style="top:1197.0px;font-size:19px;font-weight:400;color:#767678;right:1826.3px;text-align:right;">23 May</div>
<div class="t" style="top:776.0px;font-size:29px;font-weight:400;color:#767678;left:672.3px;">Top Countries</div>
<div class="t" style="top:840.0px;font-size:19.5px;font-weight:400;color:#767678;left:671.7px;">Country</div>
<div class="t" style="top:841.0px;font-size:19px;font-weight:400;color:#767678;right:1257.2px;text-align:right;">Requests</div>
<div style="position:absolute;left:667.5px;top:874.0px;width:317.5px;height:46.5px;background:#c2e3f8;border-radius:7px;"></div>
<svg style="left:680.5px;top:889.5px;border-radius:2px" width="21" height="15" viewBox="0 0 21 15"><rect width="21" height="15" fill="#fff"/><rect y="0.00" width="21" height="1.07" fill="#d5343c"/><rect y="2.14" width="21" height="1.07" fill="#d5343c"/><rect y="4.29" width="21" height="1.07" fill="#d5343c"/><rect y="6.43" width="21" height="1.07" fill="#d5343c"/><rect y="8.57" width="21" height="1.07" fill="#d5343c"/><rect y="10.71" width="21" height="1.07" fill="#d5343c"/><rect y="12.86" width="21" height="1.07" fill="#d5343c"/><rect width="10" height="8" fill="#3c4f9a"/></svg>
<div class="t" style="top:882.0px;font-size:21.7px;font-weight:400;color:#3a4150;left:715.0px;">United States (US)</div>
<div class="t" style="top:885.0px;font-size:22.5px;font-weight:400;color:#3a4150;right:1258.5px;text-align:right;">4389</div>
<div style="position:absolute;left:667.5px;top:930.6px;width:212.8px;height:46.5px;background:#c2e3f8;border-radius:7px;"></div>
<svg style="left:680.5px;top:946.1px;border-radius:2px" width="21" height="15" viewBox="0 0 21 15"><rect width="21" height="7.5" fill="#e0303a"/><rect y="7.5" width="21" height="7.5" fill="#f2f2f2"/></svg>
<div class="t" style="top:939.0px;font-size:21.7px;font-weight:400;color:#3a4150;left:715.0px;">Indonesia (ID)</div>
<div class="t" style="top:942.0px;font-size:22.5px;font-weight:400;color:#3a4150;right:1258.5px;text-align:right;">2948</div>
<div style="position:absolute;left:667.5px;top:987.2px;width:167.1px;height:46.5px;background:#c2e3f8;border-radius:7px;"></div>
<svg style="left:680.5px;top:1002.7px;border-radius:2px" width="21" height="15" viewBox="0 0 21 15"><rect width="21" height="5" fill="#f29b42"/><rect y="5" width="21" height="5" fill="#fafafa"/><rect y="10" width="21" height="5" fill="#2f9a48"/><circle cx="10.5" cy="7.5" r="1.8" fill="none" stroke="#3a4a9a" stroke-width="0.7"/></svg>
<div class="t" style="top:995.0px;font-size:21.7px;font-weight:400;color:#3a4150;left:715.0px;">India (IN)</div>
<div class="t" style="top:998.0px;font-size:22.5px;font-weight:400;color:#3a4150;right:1258.5px;text-align:right;">2317</div>
<div style="position:absolute;left:667.5px;top:1043.8px;width:138.0px;height:46.5px;background:#c2e3f8;border-radius:7px;"></div>
<svg style="left:680.5px;top:1059.3px;border-radius:2px" width="21" height="15" viewBox="0 0 21 15"><rect width="21" height="7.5" fill="#3154b8"/><rect y="7.5" width="21" height="7.5" fill="#d9343c"/><path d="M0,0L11,7.5L0,15Z" fill="#f5f5f5"/><circle cx="3.5" cy="7.5" r="1.5" fill="#f2c53d"/></svg>
<div class="t" style="top:1052.0px;font-size:21.7px;font-weight:400;color:#3a4150;left:715.0px;">Philippines (PH)</div>
<div class="t" style="top:1055.0px;font-size:22.5px;font-weight:400;color:#3a4150;right:1258.5px;text-align:right;">1919</div>
<div style="position:absolute;left:667.5px;top:1100.4px;width:85.6px;height:46.5px;background:#c2e3f8;border-radius:7px;"></div>
<svg style="left:680.5px;top:1115.9px;border-radius:2px" width="21" height="15" viewBox="0 0 21 15"><rect width="21" height="15" fill="#2f3f8f"/><path d="M0,0L21,15M21,0L0,15" stroke="#fff" stroke-width="3"/><path d="M0,0L21,15M21,0L0,15" stroke="#d23440" stroke-width="1.2"/><path d="M10.5,0V15M0,7.5H21" stroke="#fff" stroke-width="4.5"/><path d="M10.5,0V15M0,7.5H21" stroke="#d23440" stroke-width="2.5"/></svg>
<div class="t" style="top:1108.0px;font-size:21.7px;font-weight:400;color:#3a4150;left:715.0px;">United Kingdom (GB)</div>
<div class="t" style="top:1111.0px;font-size:22.5px;font-weight:400;color:#3a4150;right:1258.5px;text-align:right;">1197</div>
<div class="btn" style="left:671px;top:1180.5px;width:432px;height:47px;border-radius:12px;border-color:#e3e4e6"></div>
<svg style="left:835.6px;top:1192.4px" width="23.6" height="23.6" viewBox="0 0 24 24" fill="none" stroke="#5f6672" stroke-width="1.4" stroke-linecap="round" stroke-linejoin="round"><path d="M3.75 3.75v4.5m0-4.5h4.5m-4.5 0L9 9M3.75 20.25v-4.5m0 4.5h4.5m-4.5 0L9 15M20.25 3.75h-4.5m4.5 0v4.5m0-4.5L15 9m5.25 11.25h-4.5m4.5 0v-4.5m0 4.5L15 15"/></svg>
<div class="t" style="top:1194.0px;font-size:19px;font-weight:400;color:#1f2430;left:865.0px;">Show All</div>
<div class="t" style="top:776.0px;font-size:29px;font-weight:400;color:#767678;left:1240.5px;">Latency</div>
<div class="t" style="top:777.0px;font-size:24.3px;font-weight:400;color:#767678;left:2146.0px;">latency</div>
<div class="t" style="top:831.0px;font-size:38px;font-weight:700;color:#0b0b0c;left:1242.0px;">6.058 s / req</div>
<div class="t" style="top:1177.0px;font-size:19px;font-weight:400;color:#767678;left:1241.5px;">22 Feb</div>
<div class="t" style="top:1177.0px;font-size:19px;font-weight:400;color:#767678;right:139.0px;text-align:right;">23 May</div>
<div style="position:absolute;left:2355px;top:0;width:3px;height:1286px;background:#f3f4f6"></div>
</body></html>
